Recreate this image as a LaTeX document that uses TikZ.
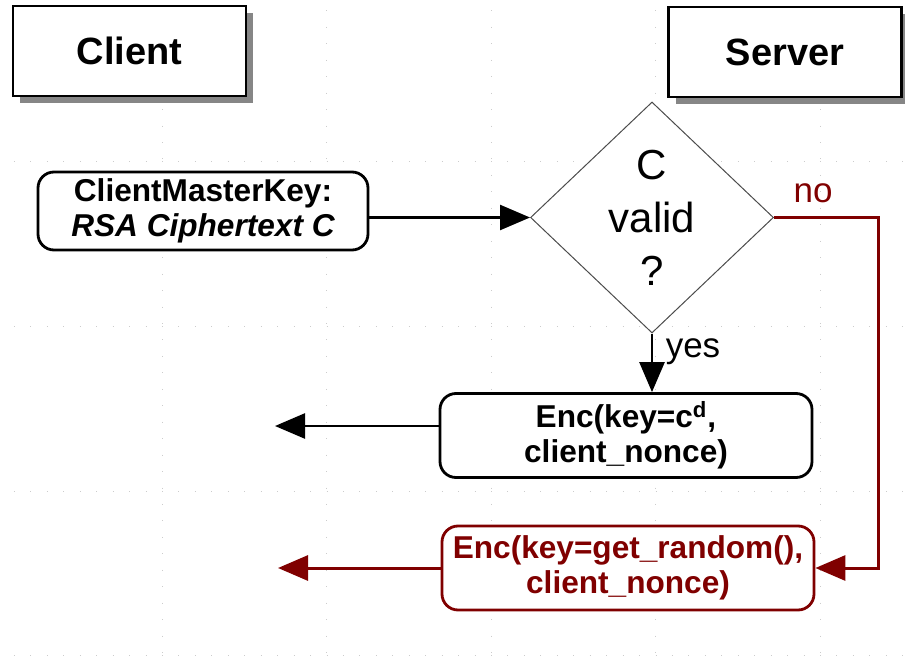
\documentclass[tikz,border=0pt]{standalone}
\usepackage{fontspec}
\setmainfont{Liberation Sans}
\usetikzlibrary{arrows.meta, shapes.geometric, shadows}

\definecolor{darkred}{RGB}{128,0,0}

\begin{document}
\begin{tikzpicture}[x = 0.5pt, y = -0.5pt, > = {Triangle[length = 15pt, width = 12.5pt]},
	every node/.style = {align = center, inner sep = 0pt},
	party/.style = {draw, line width = 1.4pt, fill = white, minimum width = 116.5pt, minimum height = 45pt,
		font = \fontsize{19}{23}\selectfont\bfseries,
		drop shadow = {shadow xshift = 3.5pt, shadow yshift = -3.5pt, fill = gray!95, opacity = 1}},
	message/.style = {draw, line width = 1.4pt, fill = white, rounded corners = 8pt,
		minimum width = 186pt, minimum height = 42pt, font = \fontsize{15.8}{17.5}\selectfont\bfseries},
	decision/.style = {diamond, draw = gray!60!black, line width = 0.5pt, fill = white,
		minimum width = 121.5pt, minimum height = 115.5pt},
	answer/.style = {font = \fontsize{17.5}{20}\selectfont},
	flow/.style = {->, line width = 1.3pt},
	griddots/.style = {gray!40, line width = 0.5pt, dash pattern = on 0.5pt off 7.725pt}]

	% Page size (in pixels, one unit = 0.5pt)

	\useasboundingbox (0, 0) rectangle (905, 658);

	% Dotted background grid

	\foreach \k in {0, ..., 4}
		\draw [griddots] (162 + 164.5 * \k, -6) -- (162 + 164.5 * \k, 670);
	\foreach \k in {0, ..., 3}
		\draw [griddots] (-2.5, 162 + 164.5 * \k) -- (910, 162 + 164.5 * \k);

	% Both parties

	\node [party] (client) at (129.5, 51) {Client};
	\node [party] (server) at (785, 52) {Server};

	% Handshake messages and the check on the server

	\node [message, minimum width = 165pt, minimum height = 39pt] (cmk) at (203, 211)
		{ClientMasterKey:\\\itshape RSA Ciphertext C};

	\node [decision] (check) at (652, 217.5) {};
	\node [font = \fontsize{21}{26.5}\selectfont] (checktext) at (check) {C\\valid\\?};

	\node [message] (enc) at (626, 435.5) {Enc(key=c\textsuperscript{d},\\client\_nonce)};
	\node [message, draw = darkred, text = darkred] (rnd) at (628, 568)
		{Enc(key=get\_random(),\\client\_nonce)};

	\node [answer, text = darkred] (no) at (813, 193) {no};
	\node [answer] (yes) at (693, 352) {yes};

	% Free ends of the connectors

	\coordinate (reply) at (275, 426);
	\coordinate (reject) at (278, 568);
	\coordinate (detour) at (878, 217.5);

	% Connectors

	\draw [flow] (cmk.east |- check.west) -- (check.west);
	\draw [flow] (check.south) -- (check.south |- enc.north);
	\draw [flow] (enc.west |- reply) -- (reply);

	\begin{scope}[darkred]

		\draw [flow, line width = 1.5pt] (check.east) -- (detour) |- (rnd.east);
		\draw [flow, line width = 1.5pt] (rnd.west) -- (reject);

	\end{scope}

\end{tikzpicture}
\end{document}
